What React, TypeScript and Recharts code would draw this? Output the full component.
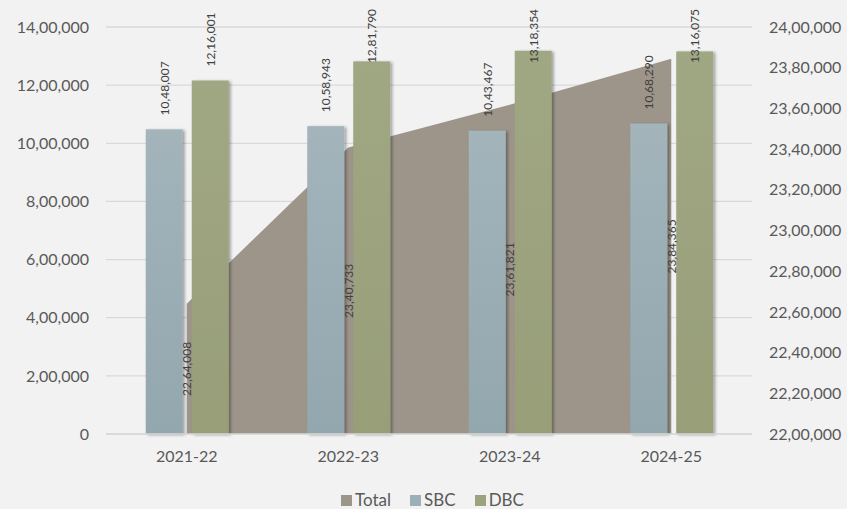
import React from 'react';
import * as RC from 'recharts';
import { ComposedChart, Area, Bar, XAxis, YAxis, CartesianGrid, LabelList } from 'recharts';

const years = ['2021-22', '2022-23', '2023-24', '2024-25'];
const totalValues = [2264008, 2340733, 2361821, 2384365];
const sbcValues = [1048007, 1058943, 1043467, 1068290];
const dbcValues = [1216001, 1281790, 1318354, 1316075];
const leftTicks = [0, 200000, 400000, 600000, 800000, 1000000, 1200000, 1400000];
const rightTicks = [2200000, 2220000, 2240000, 2260000, 2280000, 2300000, 2320000, 2340000, 2360000, 2380000, 2400000];

const data = years.map((year, i) => ({
  year,
  total: totalValues[i],
  sbc: sbcValues[i],
  dbc: dbcValues[i],
}));

const COLORS = {
  total: '#9D958A',
  sbc: '#9EB0B7',
  dbc: '#9CA37E',
  grid: '#D9D9D9',
  tick: '#595959',
  label: '#404040',
  bg: '#F2F2F2',
};

const FONT = 'Lato, "Open Sans", "DejaVu Sans", sans-serif';

function fmtIN(n: number): string {
  const s = Math.round(n).toString();
  if (s.length <= 3) return s;
  const last3 = s.slice(-3);
  let rest = s.slice(0, -3);
  const parts: string[] = [];
  while (rest.length > 2) {
    parts.unshift(rest.slice(-2));
    rest = rest.slice(0, -2);
  }
  if (rest) parts.unshift(rest);
  return parts.join(',') + ',' + last3;
}

const usePlotAreaSafe: () => any = (RC as any).usePlotArea || (() => null);

function AreaLabel(props: any) {
  const plot = usePlotAreaSafe();
  const { x, y, value } = props;
  if (x == null || y == null) return null;
  const bottom = plot ? plot.y + plot.height : y + 100;
  const cy = (y + bottom) / 2;
  return (
    <text
      x={x}
      y={cy}
      transform={`rotate(-90 ${x} ${cy})`}
      textAnchor="middle"
      dominantBaseline="central"
      fontSize={12}
      fontFamily={FONT}
      fill={COLORS.label}
    >
      {fmtIN(value)}
    </text>
  );
}

function BarLabel(props: any) {
  const { x, y, width, value } = props;
  if (x == null || y == null) return null;
  const cx = x + width / 2;
  const cy = Math.max(y - 41, 36);
  return (
    <text
      x={cx}
      y={cy}
      transform={`rotate(-90 ${cx} ${cy})`}
      textAnchor="middle"
      dominantBaseline="central"
      fontSize={12}
      fontFamily={FONT}
      fill={COLORS.label}
    >
      {fmtIN(value)}
    </text>
  );
}

function ShadowBar(props: any) {
  const { x, y, width, height, fill } = props;
  if (x == null || height == null || height <= 0) return null;
  return <rect x={x} y={y} width={width} height={height} fill={fill} filter="url(#barShadow)" />;
}

function LegendItem({ color, label, last }: { color: string; label: string; last?: boolean }) {
  return (
    <div style={{ display: 'flex', alignItems: 'center', marginRight: last ? 0 : 19 }}>
      <div style={{ width: 11, height: 11, background: color, marginRight: 3, marginTop: 2 }} />
      <span>{label}</span>
    </div>
  );
}

export default function App() {
  return (
    <div
      style={{
        position: 'absolute',
        left: 0,
        top: 0,
        width: 847,
        height: 509,
        background: COLORS.bg,
        fontFamily: FONT,
        overflow: 'hidden',
      }}
    >
      <ComposedChart
        width={847}
        height={509}
        data={data}
        margin={{ top: 27, right: 0, bottom: 45, left: 0 }}
        barGap={9}
        barCategoryGap={39.75}
      >
        <defs>
          <filter id="barShadow" x="-30%" y="-10%" width="160%" height="120%">
            <feDropShadow dx="2" dy="1" stdDeviation="1.5" floodColor="#000" floodOpacity="0.35" />
          </filter>
          <linearGradient id="gSbc" x1="0" y1="0" x2="0" y2="1">
            <stop offset="0%" stopColor="#A3B4BB" />
            <stop offset="100%" stopColor="#93A7AF" />
          </linearGradient>
          <linearGradient id="gDbc" x1="0" y1="0" x2="0" y2="1">
            <stop offset="0%" stopColor="#A0A783" />
            <stop offset="100%" stopColor="#979E78" />
          </linearGradient>
        </defs>
        <CartesianGrid vertical={false} stroke={COLORS.grid} strokeWidth={1.3} yAxisId="left" />
        <XAxis
          dataKey="year"
          height={30}
          axisLine={{ stroke: COLORS.grid, strokeWidth: 1.3 }}
          tickLine={false}
          tickSize={0}
          tickMargin={17}
          tick={{ fill: COLORS.tick, fontSize: 16, fontFamily: FONT }}
        />
        <YAxis
          yAxisId="left"
          orientation="left"
          width={106}
          domain={[0, 1400000]}
          ticks={leftTicks}
          tickFormatter={fmtIN}
          axisLine={false}
          tickLine={false}
          tickSize={0}
          tickMargin={17}
          tick={{ fill: COLORS.tick, fontSize: 16, fontFamily: FONT }}
        />
        <YAxis
          yAxisId="right"
          orientation="right"
          width={95}
          domain={[2200000, 2400000]}
          ticks={rightTicks}
          tickFormatter={fmtIN}
          axisLine={false}
          tickLine={false}
          tickSize={0}
          tickMargin={17}
          tick={{ fill: COLORS.tick, fontSize: 16, fontFamily: FONT }}
        />
        <Area
          yAxisId="right"
          dataKey="total"
          name="Total"
          type="linear"
          fill={COLORS.total}
          fillOpacity={1}
          stroke="none"
          isAnimationActive={false}
        >
          <LabelList dataKey="total" content={<AreaLabel />} />
        </Area>
        <Bar yAxisId="left" dataKey="sbc" name="SBC" fill="url(#gSbc)" shape={<ShadowBar />} isAnimationActive={false}>
          <LabelList dataKey="sbc" content={<BarLabel />} />
        </Bar>
        <Bar yAxisId="left" dataKey="dbc" name="DBC" fill="url(#gDbc)" shape={<ShadowBar />} isAnimationActive={false}>
          <LabelList dataKey="dbc" content={<BarLabel />} />
        </Bar>
      </ComposedChart>
      <div
        style={{
          position: 'absolute',
          left: 18,
          width: 829,
          top: 491,
          display: 'flex',
          justifyContent: 'center',
          fontSize: 17,
          lineHeight: '17px',
          color: COLORS.tick,
        }}
      >
        <LegendItem color={COLORS.total} label="Total" />
        <LegendItem color={COLORS.sbc} label="SBC" />
        <LegendItem color={COLORS.dbc} label="DBC" last />
      </div>
    </div>
  );
}
